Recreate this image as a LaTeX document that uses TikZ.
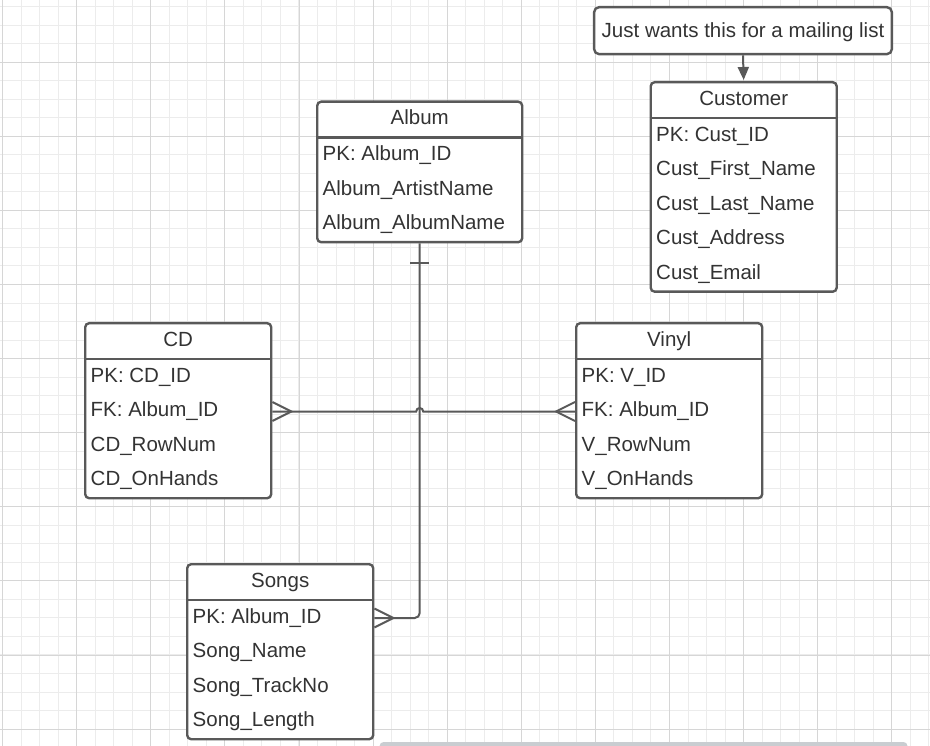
\documentclass[tikz,border=0pt]{standalone}
\usepackage{fontspec}
\setmainfont{Liberation Sans}
\usetikzlibrary{arrows.meta}

\definecolor{linec}{RGB}{89,89,89}
\definecolor{textc}{RGB}{51,51,51}
\definecolor{gridminor}{RGB}{236,236,236}
\definecolor{gridmajor}{RGB}{214,214,214}
\definecolor{scrollc}{RGB}{201,205,209}

\newcommand\erfont{\fontsize{20.5pt}{24pt}\selectfont}

\tikzset{
  tablebox/.style={draw=linec, line width=2.4pt, rounded corners=4pt, fill=white,
    inner sep=0pt, anchor=north west},
  tabletitle/.style={text=textc, font=\erfont, inner sep=0pt,
    text height=17.4pt, text depth=5.1pt},
  tablefield/.style={text=textc, font=\erfont, inner sep=0pt, anchor=west,
    text height=17.4pt, text depth=5.1pt},
  tablerule/.style={draw=linec, line width=2.4pt},
  relation/.style={draw=linec, line width=2pt},
  note/.style={draw=linec, line width=2.4pt, rounded corners=5pt, fill=white,
    text=textc, font=\erfont, minimum width=297.7pt, minimum height=47pt,
    inner sep=0pt, text height=18.4pt, text depth=5.1pt},
  minorline/.style={draw=gridminor, line width=1pt},
  majorline/.style={draw=gridmajor, line width=1pt},
}

% entity table: name, x, y, width, number of fields, title, key/text list
\newcommand\ertable[7]{%
  \node[tablebox, minimum width=#4pt, minimum height={37pt+34.5pt*#5}] (#1) at (#2,#3) {};
  \draw[tablerule] ([yshift=-37pt]#1.north west) -- ([yshift=-37pt]#1.north east);
  \node[tabletitle] (#1-title) at ([yshift=-18.2pt]#1.north) {#6};
  \foreach \key/\txt [count=\k from 0] in {#7} {
    \node[tablefield] (#1-\key) at ([xshift=6.5pt, yshift={-54.2pt-34.5pt*\k}]#1.north west) {\txt};
  }%
}

\begin{document}
\begin{tikzpicture}[x=1pt, y=-1pt]
  \useasboundingbox (0,0) rectangle (930,746);

  % background grid, lines set on whole pixels
  \begin{scope}
    \clip (0,0) rectangle (930,746);
    \fill[white] (0,0) rectangle (930,746);
    \foreach \i in {0,...,50} {
      \draw[minorline] ({floor(2.6+18.525*\i)+0.5},0) -- ++(0,746);
    }
    \foreach \i in {0,...,41} {
      \draw[minorline] (0,{floor(-11.9+18.525*\i)+0.5}) -- ++(930,0);
    }
    \foreach \i in {0,...,12} {
      \draw[majorline] ({floor(2.6+74.1*\i)+0.5},0) -- ++(0,746);
    }
    \foreach \i in {1,...,10} {
      \draw[majorline] (0,{floor(-11.9+74.1*\i)+0.5}) -- ++(930,0);
    }
    % scroll bar along the lower edge
    \fill[scrollc, rounded corners=4pt] (379.6,742) rectangle (907.5,754);
  \end{scope}

  % tables
  \ertable{album}{316}{100.5}{205}{3}{Album}{%
    pk/PK: Album\_ID, artist/Album\_ArtistName, name/Album\_AlbumName}
  \ertable{customer}{649.5}{81}{186}{5}{Customer}{%
    pk/PK: Cust\_ID, first/Cust\_First\_Name, last/Cust\_Last\_Name,
    address/Cust\_Address, email/Cust\_Email}
  \ertable{cd}{84}{322}{186}{4}{CD}{%
    pk/PK: CD\_ID, fk/FK: Album\_ID, row/CD\_RowNum, hands/CD\_OnHands}
  \ertable{vinyl}{575}{322}{186}{4}{Vinyl}{%
    pk/PK: V\_ID, fk/FK: Album\_ID, row/V\_RowNum, hands/V\_OnHands}
  \ertable{songs}{186}{563}{186}{4}{Songs}{%
    pk/PK: Album\_ID, name/Song\_Name, track/Song\_TrackNo, length/Song\_Length}

  % note on the customer table
  \node[note] (note) at (743,30.65) {Just wants this for a mailing list};
  \draw[relation, -{Triangle[length=13pt,width=11pt]}, shorten >=1pt]
    (note.south) -- (customer.north);

  % relationship end points
  \coordinate (cdend) at ([yshift=-0.8pt]cd.east |- cd-fk);
  \coordinate (vinylend) at ([yshift=-0.8pt]vinyl.west |- vinyl-fk);
  \coordinate (songsend) at ([yshift=-0.8pt]songs.east |- songs-pk);
  \coordinate (hop) at (album.south |- cdend);

  % album to songs
  \draw[relation, rounded corners=5pt] (album.south) -- (album.south |- songsend) -- (songsend);
  % cd to vinyl, hopping over the album line
  \draw[relation] (cdend) -- ([xshift=-3.5pt]hop)
    arc[start angle=180, end angle=0, radius=3.5pt] -- (vinylend);

  % one mark at the album end
  \draw[relation] ([xshift=-9.5pt, yshift=-20pt]album.south) -- ([xshift=9.5pt, yshift=-20pt]album.south);
  % many marks
  \draw[relation] ([yshift=9.5pt]cdend) -- ([xshift=19pt]cdend) -- ([yshift=-9.5pt]cdend);
  \draw[relation] ([yshift=9.5pt]vinylend) -- ([xshift=-19pt]vinylend) -- ([yshift=-9.5pt]vinylend);
  \draw[relation] ([yshift=9.5pt]songsend) -- ([xshift=19pt]songsend) -- ([yshift=-9.5pt]songsend);
\end{tikzpicture}
\end{document}
